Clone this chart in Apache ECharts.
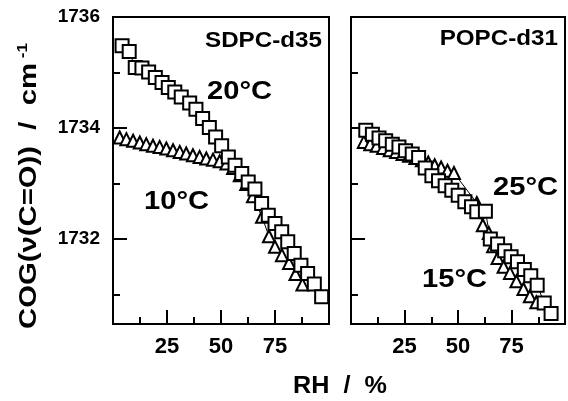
<!DOCTYPE html>
<html><head><meta charset="utf-8">
<script src="https://cdn.jsdelivr.net/npm/echarts@6/dist/echarts.min.js"></script>
<style>html,body{margin:0;padding:0;background:#fff}#c{width:568px;height:401px}</style>
</head><body><div id="c"></div>
<script>
// SDPC-d35, 20 °C (squares)
const sdpcRH20 = [4.2, 7.5, 10.3, 13.4, 16.5, 19.6, 22.7, 25.6, 28.6, 31.6, 35.5, 38.4, 41.5, 44.6, 47.5, 50.3, 53.4, 56.5, 59.6, 62.6, 65.7, 68.8, 71.9, 75.0, 78.1, 80.9, 83.9, 87.0, 90.1, 93.2, 96.6];
const sdpcCOG20 = [1735.48, 1735.38, 1735.09, 1735.08, 1735.01, 1734.91, 1734.82, 1734.73, 1734.65, 1734.56, 1734.45, 1734.34, 1734.17, 1734.01, 1733.84, 1733.68, 1733.48, 1733.33, 1733.18, 1733.03, 1732.90, 1732.64, 1732.43, 1732.28, 1732.13, 1731.95, 1731.74, 1731.53, 1731.38, 1731.19, 1730.96];
// SDPC-d35, 10 °C (triangles)
const sdpcRH10 = [3.1, 6.2, 9.3, 12.4, 15.4, 18.5, 21.6, 24.7, 27.8, 30.9, 33.9, 37.0, 40.1, 43.2, 46.3, 49.4, 52.5, 55.6, 58.7, 61.7, 64.8, 69.0, 72.2, 75.0, 78.2, 81.5, 84.5, 87.7];
const sdpcCOG10 = [1733.83, 1733.80, 1733.77, 1733.74, 1733.71, 1733.68, 1733.66, 1733.63, 1733.60, 1733.57, 1733.54, 1733.51, 1733.48, 1733.45, 1733.43, 1733.40, 1733.36, 1733.28, 1733.15, 1732.99, 1732.77, 1732.40, 1732.05, 1731.86, 1731.71, 1731.57, 1731.37, 1731.18];
// POPC-d31, 25 °C (squares)
const popcRH25 = [6.9, 10.0, 13.1, 16.2, 19.3, 22.4, 25.5, 28.6, 31.6, 34.7, 37.8, 40.9, 44.0, 47.1, 50.1, 53.2, 56.3, 58.8, 62.8, 65.1, 68.5, 71.8, 74.8, 77.8, 81.0, 84.0, 87.0, 90.3, 93.5];
const popcCOG25 = [1733.96, 1733.89, 1733.82, 1733.77, 1733.71, 1733.66, 1733.59, 1733.53, 1733.47, 1733.28, 1733.14, 1733.05, 1732.96, 1732.88, 1732.79, 1732.67, 1732.58, 1732.49, 1732.50, 1732.00, 1731.91, 1731.79, 1731.68, 1731.59, 1731.45, 1731.34, 1731.17, 1730.85, 1730.66];
// POPC-d31, 15 °C (triangles)
const popcRH15 = [6.0, 9.0, 12.0, 15.0, 18.1, 21.1, 24.1, 27.1, 30.1, 33.1, 36.1, 39.1, 42.1, 45.1, 48.1, 58.8, 61.6, 64.4, 66.4, 68.5, 71.3, 74.3, 77.3, 80.6, 83.6, 86.6];
const popcCOG15 = [1733.75, 1733.71, 1733.68, 1733.64, 1733.60, 1733.57, 1733.53, 1733.50, 1733.46, 1733.42, 1733.38, 1733.33, 1733.29, 1733.23, 1733.19, 1732.65, 1732.25, 1732.11, 1731.87, 1731.66, 1731.50, 1731.39, 1731.24, 1731.10, 1730.97, 1730.86];

const xTickLabels = [25, 50, 75];
const yMajorTicks = [1732, 1734, 1736];
const yMinorTicks = [1731, 1733, 1735];
const panelTitles = ['SDPC-d35', 'POPC-d31'];
const tempLabels = ['20°C', '10°C', '25°C', '15°C'];

const FF = '"Liberation Sans", Arial, Helvetica, sans-serif';
const zip = (a, b) => a.map((v, i) => [v, b[i]]);
const tickStyle = { color: '#000', width: 2 };

const grids = [
  { left: 113, top: 17, width: 216, height: 307 },
  { left: 351, top: 17, width: 216, height: 307 }
].map(g => Object.assign(g, { show: true, borderColor: '#000', borderWidth: 2, backgroundColor: 'transparent' }));

const xAxes = [], yAxes = [];
[0, 1].forEach(g => {
  xAxes.push({
    gridIndex: g, type: 'value', min: 0, max: 100, interval: 25, position: 'bottom',
    axisLine: { show: true, lineStyle: tickStyle },
    axisTick: { show: true, inside: true, length: 14, lineStyle: tickStyle },
    axisLabel: { show: true, margin: 12, color: '#000', fontSize: 22, fontWeight: 'bold', fontFamily: FF,
      formatter: v => xTickLabels.includes(v) ? String(v) : '' },
    splitLine: { show: false }
  });
  xAxes.push({
    gridIndex: g, type: 'value', min: 0, max: 100, interval: 12.5, position: 'bottom',
    axisLine: { show: false },
    axisTick: { show: true, inside: true, length: 7, lineStyle: tickStyle },
    axisLabel: { show: false }, splitLine: { show: false }
  });
  yAxes.push({
    gridIndex: g, type: 'value', min: 1730.47, max: 1736, position: 'left',
    axisLine: { show: true, lineStyle: tickStyle },
    axisTick: { show: true, inside: true, length: 14, lineStyle: tickStyle, customValues: yMajorTicks },
    axisLabel: { show: g === 0, margin: 13, color: '#000', fontSize: 19, fontWeight: 'bold', fontFamily: FF,
      customValues: yMajorTicks, formatter: v => String(v) },
    splitLine: { show: false }
  });
  yAxes.push({
    gridIndex: g, type: 'value', min: 1730.47, max: 1736, position: 'left', offset: 0,
    axisLine: { show: false },
    axisTick: { show: true, inside: true, length: 7, lineStyle: tickStyle, customValues: yMinorTicks },
    axisLabel: { show: false }, splitLine: { show: false }
  });
});

function ser(g, rh, cog, sym, size) {
  return {
    type: 'line', xAxisIndex: g * 2, yAxisIndex: g * 2, data: zip(rh, cog),
    symbol: sym, symbolSize: size, showAllSymbol: true, clip: false,
    itemStyle: { color: '#fff', borderColor: '#000', borderWidth: 2 },
    lineStyle: { color: '#000', width: 1 }, silent: true, animation: false
  };
}

const txt = (x, y, text, size, align, sx) => ({
  type: 'text', x: x, y: y, scaleX: sx || 1, originX: 0, originY: 0,
  style: { text: text, fill: '#000', font: 'bold ' + size + 'px ' + FF, align: align, verticalAlign: 'middle' }
});

const chart = echarts.init(document.getElementById('c'), null, { renderer: 'canvas' });
chart.setOption({
  animation: false,
  backgroundColor: '#fff',
  grid: grids,
  xAxis: xAxes,
  yAxis: yAxes,
  series: [
    ser(0, sdpcRH10, sdpcCOG10, 'triangle', [12, 12]),
    ser(0, sdpcRH20, sdpcCOG20, 'rect', 13),
    ser(1, popcRH15, popcCOG15, 'triangle', [12, 12]),
    ser(1, popcRH25, popcCOG25, 'rect', 13)
  ],
  graphic: [
    txt(322, 41, panelTitles[0], 22, 'right', 1.1),
    txt(558, 39, panelTitles[1], 22, 'right', 1.1),
    txt(207, 92, tempLabels[0], 26, 'left', 1.12),
    txt(144, 202, tempLabels[1], 26, 'left', 1.12),
    txt(493, 188, tempLabels[2], 26, 'left', 1.12),
    txt(422, 280, tempLabels[3], 26, 'left', 1.12),
    txt(340, 386, 'RH  /  %', 24, 'center', 1.05),
    {
      type: 'text', x: 29, y: 186, rotation: Math.PI / 2, scaleX: 1.22,
      style: {
        text: '{a|COG(ν(C=O))  /  cm}{b| -1}', align: 'center', verticalAlign: 'middle', fill: '#000',
        rich: {
          a: { font: 'bold 24px ' + FF, fill: '#000', lineHeight: 26 },
          b: { font: 'bold 14px ' + FF, fill: '#000', verticalAlign: 'top', lineHeight: 26 }
        }
      }
    }
  ]
});
</script></body></html>
